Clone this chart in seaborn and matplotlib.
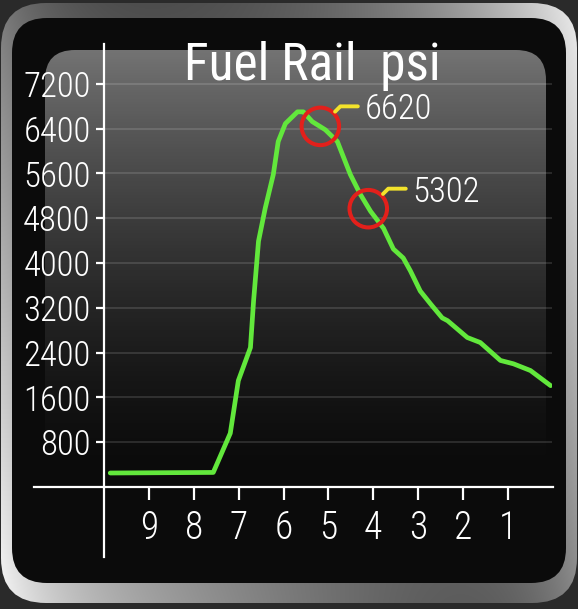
import numpy as np
import matplotlib
matplotlib.use("Agg")
import matplotlib.pyplot as plt
from matplotlib.patches import FancyBboxPatch
import seaborn as sns

# ============================
# DATA
# ============================
time_left = [9.87, 7.57, 7.19, 7.01, 6.74, 6.67, 6.56, 6.41, 6.23, 6.12, 5.96,
             5.69, 5.56, 5.36, 5.07, 4.80, 4.51, 4.29, 4.06, 3.77, 3.55, 3.33,
             3.17, 2.95, 2.72, 2.46, 2.34, 1.90, 1.61, 1.16, 0.87, 0.49, 0.04]
rail_psi = [250, 260, 960, 1900, 2490, 3325, 4390, 4980, 5580, 6170, 6490,
            6700, 6700, 6525, 6380, 6170, 5580, 5230, 4925, 4620, 4250, 4090,
            3860, 3500, 3270, 3020, 2970, 2670, 2580, 2260, 2200, 2080, 1810]

mark_x = [5.18, 4.11]
mark_y = [6440, 4970]
mark_labels = ["6620", "5302"]

x_ticks = [9, 8, 7, 6, 5, 4, 3, 2, 1]
y_ticks = [800, 1600, 2400, 3200, 4000, 4800, 5600, 6400, 7200]

plt.rcParams['font.family'] = ['Roboto Condensed', 'Liberation Sans Narrow',
                               'DejaVu Sans Condensed', 'Roboto', 'DejaVu Sans']

W, H = 578, 609
fig = plt.figure(figsize=(W / 100, H / 100), dpi=100, facecolor="#2a2a2a")

# ============================
# BACKGROUND: bezel, black panel, gray glass panel
# ============================
bg = fig.add_axes([0, 0, 1, 1], zorder=0)
bg.set_xlim(0, W)
bg.set_ylim(H, 0)
bg.axis("off")

yy, xx = np.mgrid[0:H, 0:W]
u = xx / (W - 1)
t = yy / (H - 1)
top = 0.28 + 0.65 * u ** 3
bottom = 0.78 - 0.6 * u + 0.35 * u ** 8
v = top * (1 - t) + bottom * t + 0.2 * (1 - u) ** 10
v = np.clip(v, 0, 1)
bezel = FancyBboxPatch((1, 3), W - 2, 600, boxstyle="round,pad=0,rounding_size=45",
                       facecolor="none", edgecolor="none")
bg.add_patch(bezel)
im = bg.imshow(np.dstack([v, v, v]), extent=[0, W, H, 0], aspect="auto", zorder=0)
im.set_clip_path(bezel)

panel = FancyBboxPatch((12, 18), 554, 565, boxstyle="round,pad=0,rounding_size=35",
                       facecolor="#0b0b0b", edgecolor="none", zorder=1)
bg.add_patch(panel)

glass = FancyBboxPatch((45, 50), 501, 430, boxstyle="round,pad=0,rounding_size=30",
                       facecolor="none", edgecolor="none")
bg.add_patch(glass)
g = np.linspace(1, 0, 256) ** 1.5
grad = np.zeros((256, 1, 4))
grad[..., :3] = 0.5
grad[:, 0, 3] = 0.9 * g
gi = bg.imshow(grad, extent=[45, 546, 480, 50], aspect="auto", zorder=2)
gi.set_clip_path(glass)

# ============================
# MAIN CHART
# ============================
ax = fig.add_axes([104.4 / W, (H - 487) / H, 448 / W, 443 / H], zorder=1)
ax.set_facecolor("none")

sns.lineplot(x=time_left, y=rail_psi, ax=ax, color="#62e83c", linewidth=3.4,
             sort=False, solid_capstyle="round", solid_joinstyle="round", zorder=3)

ax.scatter(mark_x, mark_y, s=730, facecolors="none", edgecolors="#e3201b",
           linewidths=2.9, zorder=4)
for xv, yv, lab in zip(mark_x, mark_y, mark_labels):
    ax.annotate(lab, xy=(xv, yv), xytext=(32, 12), textcoords="offset points",
                ha="left", va="center", color="white", fontsize=25, fontweight="light",
                arrowprops=dict(arrowstyle="-", color="#f3e32b", lw=2.8,
                                shrinkA=3, shrinkB=15, relpos=(0, 0.6),
                                connectionstyle="angle,angleA=0,angleB=45,rad=0"),
                zorder=5)

ax.set_xlim(10, 0)
ax.set_ylim(0, 7911)
ax.set_xticks(x_ticks)
ax.set_xticklabels([str(x) for x in x_ticks], fontweight="light")
ax.set_yticks(y_ticks)
ax.set_yticklabels([str(y) for y in y_ticks], fontweight="light")

ax.grid(axis="y", color="white", alpha=0.15, linewidth=1.2)
ax.grid(axis="x", visible=False)

for side in ["top", "right"]:
    ax.spines[side].set_visible(False)
for side in ["left", "bottom"]:
    ax.spines[side].set_color("white")
    ax.spines[side].set_linewidth(1.6)
ax.spines["bottom"].set_bounds(11.58, -0.02)
ax.spines["left"].set_bounds(-1250, 7911)

ax.tick_params(axis="x", colors="white", direction="out", length=9.4, width=1.6,
               pad=7, labelsize=27)
ax.tick_params(axis="y", colors="white", direction="out", length=6, width=1.6,
               pad=4, labelsize=25)

fig.text(312 / W, 1 - 80 / H, "Fuel Rail  psi", color="white", fontsize=37,
         ha="center", va="baseline")

fig.savefig("out.png", dpi=100, facecolor=fig.get_facecolor())
